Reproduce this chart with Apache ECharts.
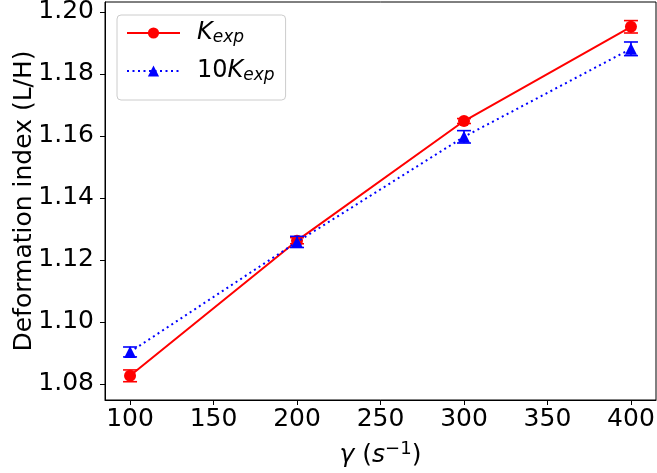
<!DOCTYPE html>
<html>
<head>
<meta charset="utf-8">
<script src="https://cdn.jsdelivr.net/npm/echarts@6/dist/echarts.min.js"></script>
<style>
  html, body { margin: 0; padding: 0; background: #fff; }
  #chart { width: 657px; height: 473px; }
</style>
</head>
<body>
<div id="chart"></div>
<script>
// data
const shearRates = [100, 200, 300, 400]
const kExp = [1.0826, 1.1262, 1.1648, 1.1952]
const kExpErr = [0.0019, 0.0010, 0.0008, 0.0020]
const tenKExp = [1.0903, 1.1258, 1.1597, 1.1881]
const tenKExpErr = [0.0016, 0.0018, 0.0020, 0.0022]
const xTicks = [100, 150, 200, 250, 300, 350, 400]
const yTicks = [1.08, 1.10, 1.12, 1.14, 1.16, 1.18, 1.20]

const FONT = 'DejaVu Sans'

function pairs(ys) {
  return shearRates.map((x, i) => [x, ys[i]])
}

function errRows(ys, errs) {
  return shearRates.map((x, i) => [x, ys[i] - errs[i], ys[i] + errs[i]])
}

// 误差棒
function errorBarSeries(ys, errs, color, z) {
  return {
    type: 'custom',
    silent: true,
    z: z,
    data: errRows(ys, errs),
    renderItem: (params, api) => {
      const x = api.value(0)
      const lo = api.coord([x, api.value(1)])
      const hi = api.coord([x, api.value(2)])
      const w = 7
      const style = { stroke: color, lineWidth: 1.6 }
      return {
        type: 'group',
        children: [
          { type: 'line', shape: { x1: lo[0], y1: lo[1], x2: hi[0], y2: hi[1] }, style },
          { type: 'line', shape: { x1: lo[0] - w, y1: lo[1], x2: lo[0] + w, y2: lo[1] }, style },
          { type: 'line', shape: { x1: hi[0] - w, y1: hi[1], x2: hi[0] + w, y2: hi[1] }, style },
        ],
      }
    },
  }
}

const chart = echarts.init(document.getElementById('chart'))

const option = {
  animation: false,
  backgroundColor: '#fff',
  textStyle: { fontFamily: FONT, color: '#000' },
  grid: {
    left: 105,
    right: 1,
    top: 2,
    bottom: 73,
    outerBoundsMode: 'none',
    containLabel: false,
    show: true,
    borderColor: '#000',
    borderWidth: 1,
  },
  legend: {
    data: ['Kexp', '10Kexp'],
    orient: 'vertical',
    left: 117,
    top: 15,
    padding: [6, 11, 16, 9],
    itemWidth: 53,
    itemHeight: 14,
    itemGap: 13,
    borderColor: '#cccccc',
    borderWidth: 1,
    borderRadius: 4,
    backgroundColor: '#fff',
    formatter: (name) => {
      if (name === 'Kexp') return '{i|K}{s|exp}'
      return '{n|10}{i|K}{s|exp}'
    },
    textStyle: {
      fontFamily: FONT,
      color: '#000',
      padding: [0, 0, 0, 12],
      rich: {
        n: { fontFamily: FONT, fontSize: 24, lineHeight: 26, color: '#000' },
        i: { fontFamily: FONT, fontSize: 24, fontStyle: 'italic', lineHeight: 26, color: '#000' },
        s: { fontFamily: FONT, fontSize: 17, fontStyle: 'italic', lineHeight: 12, verticalAlign: 'bottom', color: '#000' },
      },
    },
  },
  xAxis: {
    type: 'value',
    min: 85,
    max: 415,
    name: '{i|γ} ({i|s}{sup|−1})',
    nameLocation: 'middle',
    nameGap: 40,
    nameTextStyle: {
      fontFamily: FONT,
      fontSize: 25,
      color: '#000',
      rich: {
        i: { fontFamily: FONT, fontSize: 25, fontStyle: 'italic', lineHeight: 30, color: '#000' },
        sup: { fontFamily: FONT, fontSize: 18, lineHeight: 14, verticalAlign: 'top', color: '#000' },
      },
    },
    splitLine: { show: false },
    axisLine: { show: true, onZero: false, lineStyle: { color: '#000', width: 1 } },
    axisTick: { show: true, inside: false, length: 5, customValues: xTicks, lineStyle: { color: '#000' } },
    axisLabel: {
      customValues: xTicks,
      margin: 7,
      fontFamily: FONT,
      fontSize: 25,
      color: '#000',
    },
  },
  yAxis: {
    type: 'value',
    min: 1.0748,
    max: 1.2032,
    name: 'Deformation index (L/H)',
    nameLocation: 'middle',
    nameGap: 68,
    nameMoveOverlap: false,
    nameTextStyle: { fontFamily: FONT, fontSize: 25, color: '#000' },
    splitLine: { show: false },
    axisLine: { show: true, onZero: false, lineStyle: { color: '#000', width: 1 } },
    axisTick: { show: true, inside: false, length: 5, customValues: yTicks, lineStyle: { color: '#000' } },
    axisLabel: {
      customValues: yTicks,
      margin: 11,
      fontFamily: FONT,
      fontSize: 25,
      color: '#000',
      formatter: (v) => v.toFixed(2),
    },
  },
  series: [
    errorBarSeries(kExp, kExpErr, '#ff0000', 2),
    {
      name: 'Kexp',
      type: 'line',
      z: 3,
      data: pairs(kExp),
      symbol: 'circle',
      symbolSize: 12,
      itemStyle: { color: '#ff0000' },
      lineStyle: { color: '#ff0000', width: 2 },
    },
    errorBarSeries(tenKExp, tenKExpErr, '#0000ff', 4),
    {
      name: '10Kexp',
      type: 'line',
      z: 5,
      data: pairs(tenKExp),
      symbol: 'triangle',
      symbolSize: 12,
      itemStyle: { color: '#0000ff' },
      lineStyle: { color: '#0000ff', width: 2, type: [2, 3.5] },
    },
  ],
}

chart.setOption(option)
</script>
</body>
</html>
